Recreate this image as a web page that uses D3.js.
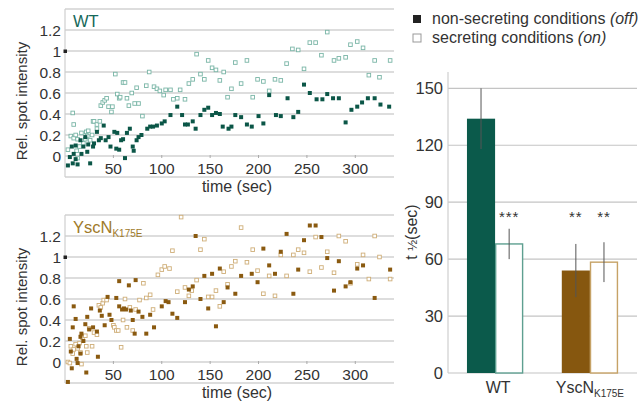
<!DOCTYPE html>
<html>
<head>
<meta charset="utf-8">
<script src="https://cdn.jsdelivr.net/npm/d3@7"></script>
<style>
body { margin: 0; background: #fff; }
svg text { font-family: "Liberation Sans", Arial, sans-serif; fill: #333; }
</style>
</head>
<body>
<svg id="chart" width="639" height="404"></svg>
<script>
// time (sec), relative spot intensity
const wtOff = [[3,-0.09],[5,-0.01],[7,0.09],[8,-0.07],[9,0.02],[11,-0.03],[13,-0.08],[11,0.1],[16,0.15],[17,0.02],[19,0.09],[21,0.18],[23,0.04],[24,0.11],[26,-0.07],[29,0.09],[30,0.12],[33,0.23],[35,0.15],[37,0.17],[40,0.29],[42,0.15],[45,0.18],[47,0.09],[51,0.23],[53,0.07],[54,0.22],[56,0.06],[58,0.15],[60,0.16],[62,-0.02],[64,0.22],[67,0.26],[70,0.09],[71,0.05],[74,0.15],[76,0.18],[79,0.2],[85,0.26],[88,0.28],[91,0.28],[95,0.29],[100,0.31],[103,0.33],[109,0.39],[116,0.47],[121,0.39],[124,0.3],[127,0.3],[132,0.33],[135,0.26],[140,0.39],[144,0.44],[148,0.46],[152,0.39],[156,0.41],[160,0.4],[163,0.28],[169,0.26],[172,0.28],[176,0.39],[182,0.37],[188,0.3],[193,0.28],[200,0.38],[205,0.31],[211,0.58],[218,0.39],[223,0.38],[230,0.55],[236,0.37],[241,0.42],[247,0.68],[253,0.6],[260,0.54],[266,0.54],[271,0.59],[277,0.55],[283,0.55],[290,0.32],[296,0.44],[302,0.47],[307,0.51],[313,0.55],[320,0.55],[326,0.49],[335,0.47]];
const wtOn = [[3,0.06],[6,0.19],[8,0.41],[9,0.3],[9,0.17],[11,0.2],[12,0.05],[13,-0.02],[13,0.16],[15,0.09],[17,0.22],[19,0.12],[21,0.16],[22,0.23],[23,0.19],[24,0.24],[26,0.15],[28,0.2],[29,0.33],[30,0.33],[33,0.3],[33,0.26],[36,0.33],[37,0.48],[39,0.51],[41,0.53],[43,0.55],[45,0.47],[48,0.42],[49,0.47],[52,0.78],[54,0.59],[56,0.55],[57,0.56],[60,0.7],[62,0.7],[64,0.55],[66,0.48],[69,0.6],[72,0.5],[74,0.65],[76,0.5],[80,0.38],[84,0.67],[87,0.8],[92,0.66],[95,0.64],[98,0.62],[102,0.58],[104,0.63],[109,0.63],[112,0.54],[116,0.55],[119,0.63],[124,0.54],[128,0.69],[132,0.73],[136,0.97],[140,0.78],[144,0.73],[148,0.91],[152,0.84],[156,0.82],[160,0.72],[164,0.8],[168,0.56],[172,0.64],[176,0.89],[182,0.69],[188,0.91],[194,0.56],[199,0.73],[205,0.71],[211,0.62],[217,0.73],[223,0.72],[229,0.88],[235,1.02],[241,1.01],[247,0.83],[253,1.08],[259,1.08],[265,0.96],[271,1.18],[278,0.91],[283,0.93],[290,0.94],[295,1.06],[302,1.09],[308,1.03],[314,0.77],[320,0.91],[325,0.75],[336,0.91]];
const yscOff = [[3,-0.19],[5,0.22],[6,0.1],[7,-0.06],[8,0.33],[9,0.53],[11,0.41],[12,0.03],[13,-0.01],[14,0.15],[16,0.24],[16,0.08],[17,0.27],[19,0.2],[21,0.36],[22,-0.1],[23,0.43],[25,0.31],[27,0.51],[29,0.33],[33,0.29],[34,0.05],[36,0.49],[38,0.44],[41,0.35],[44,0.62],[46,0.45],[48,0.4],[53,0.61],[56,0.77],[56,0.53],[59,0.5],[61,0.51],[63,0.5],[66,0.73],[68,0.49],[70,0.4],[72,0.27],[73,0.78],[76,0.48],[80,0.43],[84,0.27],[88,0.45],[92,0.33],[100,0.53],[104,0.58],[107,0.57],[111,0.46],[116,0.42],[124,0.57],[128,0.69],[132,0.72],[135,1.2],[140,0.6],[144,0.82],[148,0.51],[152,0.84],[156,0.34],[160,0.89],[164,0.57],[168,0.71],[176,0.65],[182,0.82],[193,0.84],[199,0.76],[205,1.08],[211,0.92],[217,0.84],[223,1.05],[229,1.22],[236,0.65],[241,0.88],[247,1.16],[253,1.3],[259,1.3],[265,1.19],[271,0.99],[278,0.68],[283,0.96],[290,0.72],[295,0.76],[302,0.89],[308,0.92],[320,0.61],[336,0.88]];
const yscOn = [[3,0.0],[5,-0.01],[6,0.15],[8,0.08],[9,0.12],[11,0.17],[13,0.13],[15,0.18],[16,0.09],[17,-0.02],[18,0.23],[21,0.25],[22,0.15],[23,0.09],[25,0.32],[28,0.15],[30,0.28],[33,0.26],[35,0.54],[37,0.52],[39,0.56],[40,0.59],[43,0.59],[50,0.35],[51,0.33],[53,0.3],[55,0.3],[58,0.14],[60,0.4],[62,0.6],[64,0.33],[67,0.52],[70,0.3],[73,0.5],[77,0.59],[81,0.75],[84,0.61],[88,0.64],[91,0.5],[96,0.83],[100,0.88],[103,0.91],[108,0.89],[111,1.06],[116,0.67],[120,1.38],[124,0.71],[128,0.63],[131,0.68],[136,0.78],[140,1.07],[144,1.17],[148,0.62],[152,0.62],[156,0.68],[160,0.53],[164,0.86],[168,0.74],[172,0.91],[176,0.96],[182,1.28],[188,0.95],[194,1.07],[199,0.87],[205,0.65],[211,0.82],[217,0.63],[223,1.02],[229,0.82],[236,1.02],[241,1.07],[247,1.04],[253,0.86],[259,1.19],[265,0.9],[271,1.05],[278,0.85],[283,1.2],[290,1.15],[295,0.75],[302,0.93],[308,1.02],[314,0.79],[320,1.2],[325,1.0],[336,0.79]];
const startPoint = [0, 1];

const timeTicks = [50, 100, 150, 200, 250, 300];
const intensityTicks = [0, 0.2, 0.4, 0.6, 0.8, 1, 1.2];
const gridValues = [-0.2, 0, 0.2, 0.4, 0.6, 0.8, 1, 1.2, 1.4];

// t1/2 bar chart
const strains = ["WT", "YscN"];
const conditions = ["off", "on"];
const halfTimeOff = [134, 54];
const halfTimeOffErr = [16, 14];
const halfTimeOn = [68, 58.4];
const halfTimeOnErr = [8, 10.5];
const starsOff = ["", "**"];
const starsOn = ["***", "**"];
const halfTimeTicks = [0, 30, 60, 90, 120, 150];

const svg = d3.select("#chart");
const grid = "#bcbcbc";

const x = d3.scaleLinear().domain([0, 340]).range([65, 394]);

function scatterPanel(top, bottom, offData, onData, darkCol, lightCol, titleCol, title, sub) {
	const y = d3.scaleLinear().domain([-0.2, 1.4]).range([bottom, top]);
	const g = svg.append("g");

	g.selectAll(".grid").data(gridValues).enter().append("line")
		.attr("x1", x.range()[0]).attr("x2", x.range()[1])
		.attr("y1", d => y(d)).attr("y2", d => y(d))
		.attr("stroke", grid).attr("stroke-width", 1.2);
	g.append("line")
		.attr("x1", x.range()[0]).attr("x2", x.range()[0])
		.attr("y1", y(-0.2)).attr("y2", y(1.4))
		.attr("stroke", "#cfcfcf").attr("stroke-width", 1.2);

	g.selectAll(".xt").data(timeTicks).enter().append("line")
		.attr("x1", d => x(d)).attr("x2", d => x(d))
		.attr("y1", y(0) - 1).attr("y2", y(0) + 2)
		.attr("stroke", "#aaa");
	g.selectAll(".xl").data(timeTicks).enter().append("text")
		.attr("x", d => x(d)).attr("y", y(0) + 17.5)
		.attr("text-anchor", "middle").style("font-size", "15.5px")
		.text(d => d);
	g.selectAll(".yl").data(intensityTicks).enter().append("text")
		.attr("x", 61).attr("y", d => y(d) + 5.5)
		.attr("text-anchor", "end").style("font-size", "15.5px")
		.text(d => d);

	g.append("text")
		.attr("transform", `translate(27,${(y(-0.2) + y(1.4)) / 2 + 8}) rotate(-90)`)
		.attr("text-anchor", "middle").style("font-size", "15px")
		.text("Rel. spot intensity");
	g.append("text")
		.attr("x", 237).attr("y", bottom + 15)
		.attr("text-anchor", "middle").style("font-size", "16px")
		.text("time (sec)");

	const t = g.append("text").attr("x", 73).attr("y", top + 18)
		.style("font-size", "16.5px").style("fill", titleCol).text(title);
	if (sub) t.append("tspan").attr("dy", 4).style("font-size", "10px").style("fill", titleCol).text(sub);

	g.selectAll(".on").data(onData).enter().append("rect")
		.attr("x", d => x(d[0]) - 1.8).attr("y", d => y(d[1]) - 1.8)
		.attr("width", 3.6).attr("height", 3.6)
		.attr("fill", "#fff").attr("stroke", lightCol).attr("stroke-width", 0.9);
	g.selectAll(".off").data(offData).enter().append("rect")
		.attr("x", d => x(d[0]) - 2).attr("y", d => y(d[1]) - 2)
		.attr("width", 4).attr("height", 4)
		.attr("fill", darkCol);
	g.append("rect")
		.attr("x", x(startPoint[0]) - 1.5).attr("y", y(startPoint[1]) - 1.5)
		.attr("width", 3.5).attr("height", 3.5).attr("fill", "#222");
}

scatterPanel(9, 177, wtOff, wtOn, "#0b5647", "#79b5a6", "#15685a", "WT", null);
scatterPanel(215, 383, yscOff, yscOn, "#8a5a10", "#cfae78", "#a07a2a", "YscN", "K175E");

// bar chart
const yb = d3.scaleLinear().domain([0, 158.6]).range([373, 72]);
const xb = d3.scaleBand().domain(strains).range([448, 637]).paddingInner(0.407).paddingOuter(0.2);
const xc = d3.scaleBand().domain(conditions).range([0, xb.bandwidth()]);
const fillCols = ["#0b5a4b", "#86570f"];
const lineCols = ["#5e9f90", "#c6a266"];

const bg = svg.append("g");
bg.selectAll(".grid").data(halfTimeTicks).enter().append("line")
	.attr("x1", 448).attr("x2", 637)
	.attr("y1", d => yb(d)).attr("y2", d => yb(d))
	.attr("stroke", "#c4c4c4").attr("stroke-width", 1.2);
bg.append("line").attr("x1", 448).attr("x2", 448)
	.attr("y1", yb(0)).attr("y2", yb(158.6))
	.attr("stroke", "#cfcfcf").attr("stroke-width", 1.2);
bg.selectAll(".yl").data(halfTimeTicks).enter().append("text")
	.attr("x", 443).attr("y", d => yb(d) + 6)
	.attr("text-anchor", "end").style("font-size", "16.5px")
	.text(d => d);

const bars = [];
strains.forEach((s, i) => {
	bars.push({s: s, c: "off", v: halfTimeOff[i], e: halfTimeOffErr[i], star: starsOff[i], i: i});
	bars.push({s: s, c: "on", v: halfTimeOn[i], e: halfTimeOnErr[i], star: starsOn[i], i: i});
});

bg.selectAll(".bar").data(bars).enter().append("rect")
	.attr("x", d => xb(d.s) + xc(d.c) + (d.c === "on" ? 0.6 : 0))
	.attr("y", d => yb(d.v))
	.attr("width", d => xc.bandwidth() - (d.c === "on" ? 1.2 : 0))
	.attr("height", d => yb(0) - yb(d.v))
	.attr("fill", d => d.c === "off" ? fillCols[d.i] : "#fff")
	.attr("stroke", d => d.c === "off" ? "none" : lineCols[d.i])
	.attr("stroke-width", 1.4);

bg.selectAll(".err").data(bars).enter().append("line")
	.attr("x1", d => xb(d.s) + xc(d.c) + xc.bandwidth() / 2)
	.attr("x2", d => xb(d.s) + xc(d.c) + xc.bandwidth() / 2)
	.attr("y1", d => yb(d.v - d.e)).attr("y2", d => yb(d.v + d.e))
	.attr("stroke", "#555").attr("stroke-width", 1);

bg.selectAll(".star").data(bars).enter().append("text")
	.attr("x", d => xb(d.s) + xc(d.c) + xc.bandwidth() / 2)
	.attr("y", yb(79.5))
	.attr("text-anchor", "middle").style("font-size", "15px")
	.style("letter-spacing", "1px")
	.text(d => d.star);

bg.append("text").attr("x", xb("WT") + xb.bandwidth() / 2 + 3).attr("y", 393)
	.attr("text-anchor", "middle").style("font-size", "16px").text("WT");
const yl = bg.append("text").attr("x", xb("YscN") + xb.bandwidth() / 2).attr("y", 393)
	.attr("text-anchor", "middle").style("font-size", "16px").text("YscN");
yl.append("tspan").attr("dy", 4).style("font-size", "10px").text("K175E");

const tl = bg.append("text")
	.attr("transform", "translate(417,232) rotate(-90)")
	.attr("text-anchor", "middle").style("font-size", "16px");
tl.append("tspan").text("t ");
tl.append("tspan").style("font-size", "13px").text("½");
tl.append("tspan").text("(sec)");

// legend
const legend = [
	{label: "non-secreting conditions ", tag: "(off)", filled: true},
	{label: "secreting conditions ", tag: "(on)", filled: false}
];
const lg = svg.append("g");
lg.selectAll("rect").data(legend).enter().append("rect")
	.attr("x", 413).attr("y", (d, i) => 15 + i * 19)
	.attr("width", 8).attr("height", 8)
	.attr("fill", d => d.filled ? "#222" : "#fff")
	.attr("stroke", d => d.filled ? "none" : "#999");
const lt = lg.selectAll("text").data(legend).enter().append("text")
	.attr("x", 432).attr("y", (d, i) => 24 + i * 19)
	.style("font-size", "16px");
lt.append("tspan").text(d => d.label);
lt.append("tspan").style("font-style", "italic").text(d => d.tag);
</script>
</body>
</html>
